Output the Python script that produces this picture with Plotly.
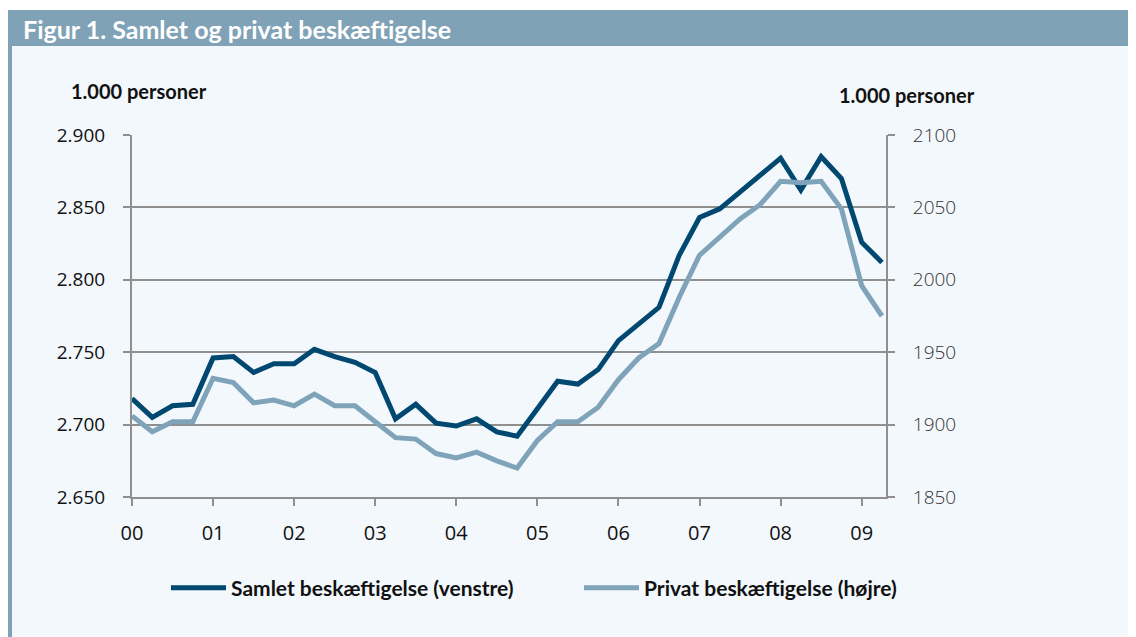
import plotly.graph_objects as go

# ---- data (quarterly, 2000Q1 - 2009Q2), 1.000 personer ----
quarter_index = list(range(38))
samlet = [2718, 2705, 2713, 2714, 2746, 2747, 2736, 2742, 2742, 2752,
          2747, 2743, 2736, 2704, 2714, 2701, 2699, 2704, 2695, 2692,
          2711, 2730, 2728, 2738, 2758, 2770, 2781, 2817, 2843, 2849,
          2861, 2873, 2884, 2862, 2885, 2870, 2826, 2812]
privat = [1906, 1895, 1902, 1902, 1932, 1929, 1915, 1917, 1913, 1921,
          1913, 1913, 1902, 1891, 1890, 1880, 1877, 1881, 1875, 1870,
          1889, 1902, 1902, 1912, 1931, 1946, 1956, 1988, 2017, 2029,
          2042, 2052, 2068, 2067, 2068, 2049, 1996, 1975]
year_ticks = [0, 4, 8, 12, 16, 20, 24, 28, 32, 36]
year_labels = ["00", "01", "02", "03", "04", "05", "06", "07", "08", "09"]

title_text = "Figur 1. Samlet og privat beskæftigelse"
unit_text = "1.000 personer"
name_samlet = "Samlet beskæftigelse (venstre)"
name_privat = "Privat beskæftigelse (højre)"

DARK = "#004870"
LIGHT = "#7fa3b9"
HEADER = "#7fa2b7"
PANEL = "#f3f8fd"
GRID = "#8f8f8f"

# page has an 8px body margin; figure coordinates = screen - 8
OFF = 8
W, H = 1136 - OFF, 637 - OFF
L, R, T, B = 132 - OFF, 886 - OFF, 135 - OFF, 497 - OFF
pw, ph = R - L, B - T


def px(x_screen):
    return (x_screen - OFF - L) / pw


def py(y_screen):
    return (B - (y_screen - OFF)) / ph


fig = go.Figure()
fig.add_trace(go.Scatter(x=quarter_index, y=privat, yaxis="y2", mode="lines",
                         line=dict(color=LIGHT, width=5), name=name_privat,
                         legend="legend2"))
fig.add_trace(go.Scatter(x=quarter_index, y=samlet, mode="lines",
                         line=dict(color=DARK, width=5), name=name_samlet,
                         legend="legend"))

shapes = [
    # light panel
    dict(type="rect", xref="paper", yref="paper", x0=px(12), x1=px(1150),
         y0=py(650), y1=py(45), fillcolor=PANEL, line_width=0, layer="below"),
    # header bar
    dict(type="rect", xref="paper", yref="paper", x0=px(8), x1=px(1150),
         y0=py(46), y1=py(10), fillcolor=HEADER, line_width=0, layer="below"),
    # left stripe
    dict(type="rect", xref="paper", yref="paper", x0=px(8), x1=px(12),
         y0=py(650), y1=py(45), fillcolor=HEADER, line_width=0, layer="below"),
]

annotations = [
    dict(text="<b>" + title_text + "</b>", xref="paper", yref="paper",
         x=px(21), y=py(29), xanchor="left", yanchor="middle", showarrow=False,
         font=dict(family="Lato", size=25, color="white")),
    dict(text="<b>" + unit_text + "</b>", xref="paper", yref="paper",
         x=px(69), y=py(91), xanchor="left", yanchor="middle", showarrow=False,
         font=dict(family="Lato", size=20, color="#111111")),
    dict(text="<b>" + unit_text + "</b>", xref="paper", yref="paper",
         x=px(837), y=py(95), xanchor="left", yanchor="middle", showarrow=False,
         font=dict(family="Lato", size=20, color="#111111")),
]

legend_font = dict(family="Lato", size=21, color="#111111", weight="bold")

fig.update_layout(
    width=W, height=H,
    margin=dict(l=L, r=W - R, t=T, b=H - B, autoexpand=False),
    paper_bgcolor="white",
    plot_bgcolor=PANEL,
    separators=",.",
    showlegend=True,
    shapes=shapes,
    annotations=annotations,
    xaxis=dict(range=[0, 37.2], tickvals=year_ticks, ticktext=year_labels,
               ticks="outside", ticklen=7, tickwidth=2, tickcolor=GRID,
               showgrid=False, zeroline=False, showline=True, linecolor=GRID,
               linewidth=2, ticklabelstandoff=10,
               tickfont=dict(family="Open Sans", size=20, color="#111111")),
    yaxis=dict(range=[2650, 2900], dtick=50, tick0=2650, tickformat=",d",
               ticks="outside", ticklen=7, tickwidth=2, tickcolor=GRID,
               showgrid=True, gridcolor=GRID, gridwidth=2, zeroline=False,
               showline=True, linecolor=GRID, linewidth=2,
               ticklabelstandoff=14,
               tickfont=dict(family="Open Sans", size=19, color="#111111")),
    yaxis2=dict(range=[1850, 2100], dtick=50, tick0=1850, tickformat="d",
                overlaying="y", side="right",
                ticks="outside", ticklen=7, tickwidth=2, tickcolor=GRID,
                showgrid=False, zeroline=False, showline=True, linecolor=GRID,
                linewidth=2, ticklabelstandoff=14,
                tickfont=dict(family="Open Sans", size=19, color="#333333",
                              weight=300)),
    legend=dict(x=px(166), y=py(588), xanchor="left", yanchor="middle",
                orientation="h", bgcolor="rgba(0,0,0,0)", font=legend_font,
                itemwidth=55),
    legend2=dict(x=px(579), y=py(588), xanchor="left", yanchor="middle",
                 orientation="h", bgcolor="rgba(0,0,0,0)", font=legend_font,
                 itemwidth=55),
)

fig.write_html("out.html")
